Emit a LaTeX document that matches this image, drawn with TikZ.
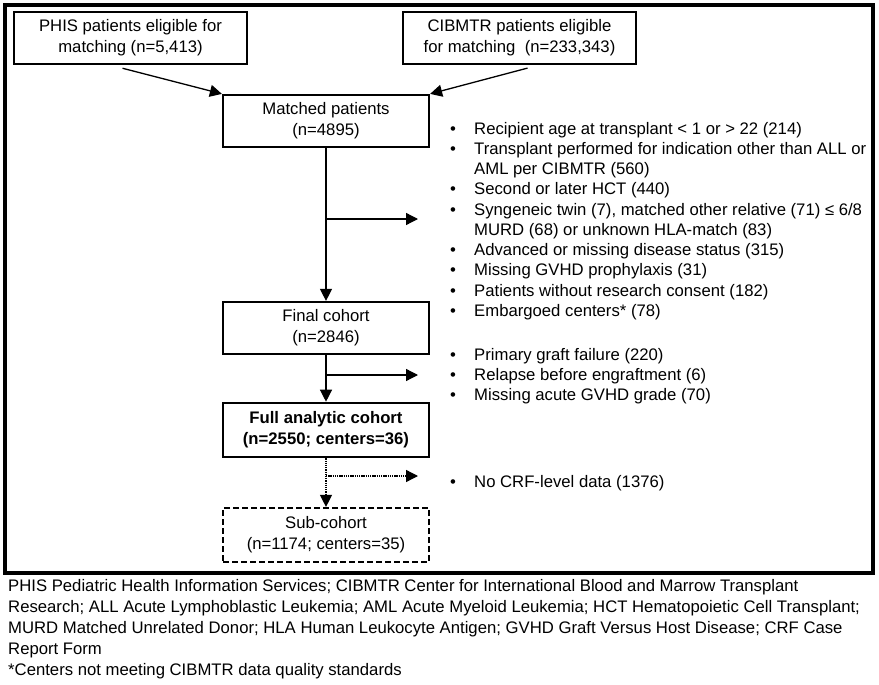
\documentclass[tikz,border=0pt]{standalone}
\usepackage{fontspec}
\setmainfont{Liberation Sans}
\usetikzlibrary{arrows.meta,calc}
\begin{document}
\begin{tikzpicture}[x=1pt,y=-1pt,
  every node/.style={font=\fontsize{16.7}{21}\selectfont, inner sep=0pt},
  box/.style={draw, line width=2.2pt, minimum width=206pt, minimum height=52pt, align=center},
  topbox/.style={box, minimum width=233pt},
  conn/.style={line width=1.3pt, -{Triangle[length=12pt,width=12pt]}},
  dotconn/.style={conn, dash pattern=on 1.3pt off 0.9pt},
  txt/.style={anchor=base west},
  bul/.style={anchor=base west}]
\useasboundingbox (0,0) rectangle (879,685);
\fill[white] (0,0) rectangle (879,685);
\draw[line width=3.5pt] (5,5) rectangle (873,573);
% boxes
\node[topbox, line width=2.5pt] (phis) at (130.5,38) {PHIS patients eligible for\\matching (n=5,413)};
\node[topbox] (cib) at (519.5,38) {CIBMTR patients eligible\\for matching\ \ (n=233,343)};
\node[box] (matched) at (326,121) {Matched patients\\(n=4895)};
\node[box] (final) at (326,328) {Final cohort\\(n=2846)};
\node[box, line width=2.6pt, minimum height=54pt, font=\fontsize{16.7}{21}\selectfont\bfseries] (full) at (326,430) {Full analytic cohort\\(n=2550; centers=36)};
\node[box, dash pattern=on 6pt off 3pt, minimum height=54pt] (sub) at (326,535) {Sub-cohort\\(n=1174; centers=35)};
% coordinates
\coordinate (ps) at ($(phis.south)+(-8,3)$);
\coordinate (cs) at ($(cib.south)+(8,3)$);
\coordinate (j1) at (326,219);
\coordinate (e1) at (418,219);
\coordinate (j2) at (326,375);
\coordinate (e2) at (418,375);
\coordinate (j3) at (326,476);
\coordinate (e3) at (418,476);
% connectors
\draw[conn] (ps) -- (matched.north west);
\draw[conn] (cs) -- (matched.north east);
\draw[conn] (matched) -- (final);
\draw[conn] (j1) -- (e1);
\draw[conn] (final) -- (full);
\draw[conn] (j2) -- (e2);
\draw[dotconn] (full) -- (sub);
\draw[dotconn] (j3) -- (e3);
% exclusion list 1
\node[bul] (b1) at (450,134) {•};
\node[txt] (t1) at (474,134) {Recipient age at transplant < 1 or > 22 (214)};
\node[bul] (b2) at (450,154.25) {•};
\node[txt] (t2) at (474,154.25) {Transplant performed for indication other than ALL or};
\node[txt] (t3) at (474,174.5) {AML per CIBMTR (560)};
\node[bul] (b4) at (450,194.75) {•};
\node[txt] (t4) at (474,194.75) {Second or later HCT (440)};
\node[bul] (b5) at (450,215) {•};
\node[txt] (t5) at (474,215) {Syngeneic twin (7), matched other relative (71) ≤ 6/8};
\node[txt] (t6) at (474,235.25) {MURD (68) or unknown HLA-match (83)};
\node[bul] (b7) at (450,255.5) {•};
\node[txt] (t7) at (474,255.5) {Advanced or missing disease status (315)};
\node[bul] (b8) at (450,275.75) {•};
\node[txt] (t8) at (474,275.75) {Missing GVHD prophylaxis (31)};
\node[bul] (b9) at (450,296) {•};
\node[txt] (t9) at (474,296) {Patients without research consent (182)};
\node[bul] (b10) at (450,316.25) {•};
\node[txt] (t10) at (474,316.25) {Embargoed centers* (78)};
% exclusion list 2
\node[bul] (c1) at (450,360) {•};
\node[txt] (u1) at (474,360) {Primary graft failure (220)};
\node[bul] (c2) at (450,380) {•};
\node[txt] (u2) at (474,380) {Relapse before engraftment (6)};
\node[bul] (c3) at (450,400) {•};
\node[txt] (u3) at (474,400) {Missing acute GVHD grade (70)};
\node[bul] (d1) at (450,487) {•};
\node[txt] (v1) at (474,487) {No CRF-level data (1376)};
% footer
\node[txt] (f1) at (8,591) {PHIS Pediatric Health Information Services; CIBMTR Center for International Blood and Marrow Transplant};
\node[txt] (f2) at (8,612) {Research; ALL Acute Lymphoblastic Leukemia; AML Acute Myeloid Leukemia; HCT Hematopoietic Cell Transplant;};
\node[txt] (f3) at (8,633) {MURD Matched Unrelated Donor; HLA Human Leukocyte Antigen; GVHD Graft Versus Host Disease; CRF Case};
\node[txt] (f4) at (8,654) {Report Form};
\node[txt] (f5) at (8,675) {*Centers not meeting CIBMTR data quality standards};
\end{tikzpicture}
\end{document}
